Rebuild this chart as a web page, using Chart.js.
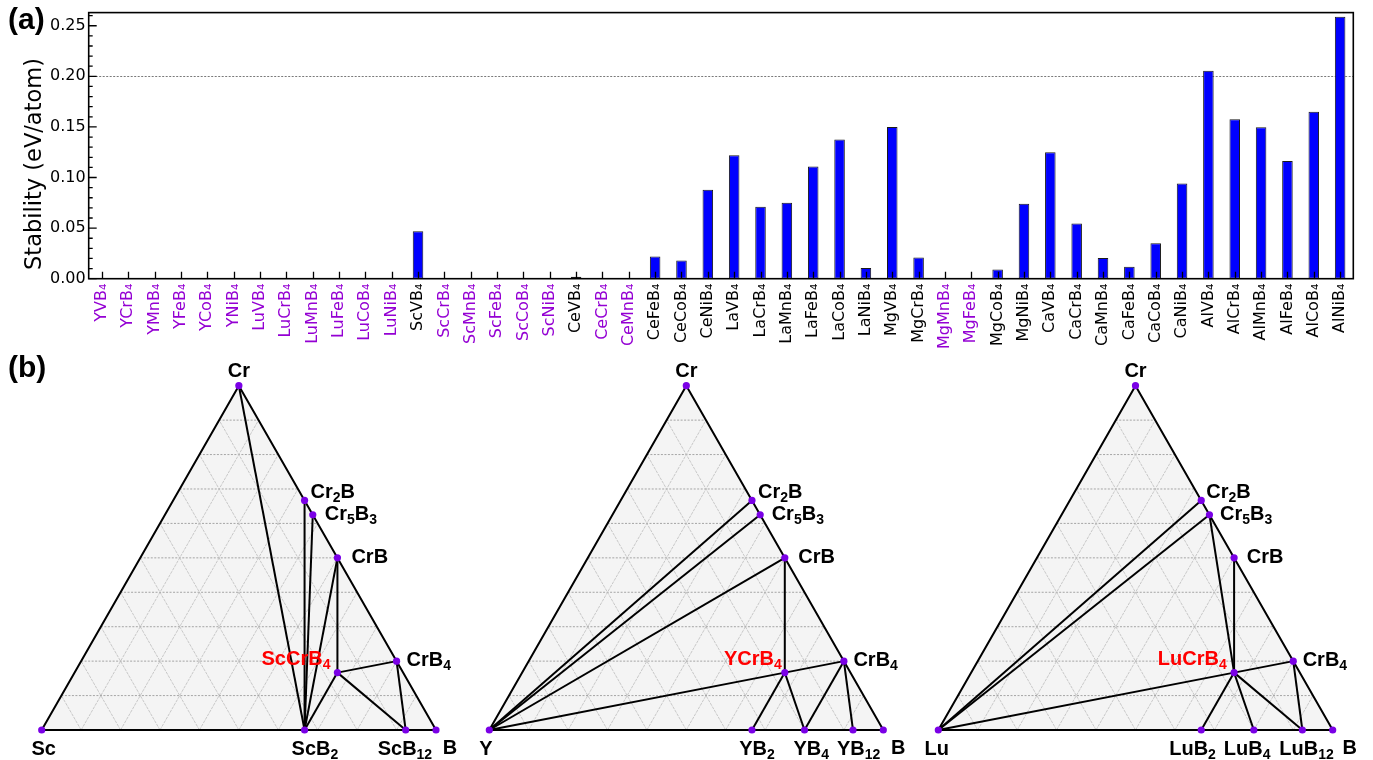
<!DOCTYPE html>
<html>
<head>
<meta charset="utf-8">
<script src="https://cdn.jsdelivr.net/npm/chart.js@4.4.1/dist/chart.umd.min.js"></script>
<style>
  html, body { margin: 0; padding: 0; background: #fff; }
  #fig { position: relative; width: 1373px; height: 760px; overflow: hidden; background: #fff; }
  #fig canvas { position: absolute; }
  .tag { position: absolute; font: bold 30px 'Liberation Sans', Arial, sans-serif; line-height: 30px; color: #000; }
</style>
</head>
<body>
<div id="fig">
  <canvas id="barChart" width="1373" height="350" style="left:0;top:0"></canvas>
  <canvas id="ternSc" width="460" height="405" style="left:0;top:355px"></canvas>
  <canvas id="ternY" width="450" height="405" style="left:460px;top:355px"></canvas>
  <canvas id="ternLu" width="463" height="405" style="left:910px;top:355px"></canvas>
  <div class="tag" style="left:8px;top:4px">(a)</div>
  <div class="tag" style="left:8px;top:352px">(b)</div>
</div>
<script>
// ---------- (a) stability of the RTB4 compounds ----------
const compounds = [
  'YVB4', 'YCrB4', 'YMnB4', 'YFeB4', 'YCoB4', 'YNiB4',
  'LuVB4', 'LuCrB4', 'LuMnB4', 'LuFeB4', 'LuCoB4', 'LuNiB4',
  'ScVB4', 'ScCrB4', 'ScMnB4', 'ScFeB4', 'ScCoB4', 'ScNiB4',
  'CeVB4', 'CeCrB4', 'CeMnB4', 'CeFeB4', 'CeCoB4', 'CeNiB4',
  'LaVB4', 'LaCrB4', 'LaMnB4', 'LaFeB4', 'LaCoB4', 'LaNiB4',
  'MgVB4', 'MgCrB4', 'MgMnB4', 'MgFeB4', 'MgCoB4', 'MgNiB4',
  'CaVB4', 'CaCrB4', 'CaMnB4', 'CaFeB4', 'CaCoB4', 'CaNiB4',
  'AlVB4', 'AlCrB4', 'AlMnB4', 'AlFeB4', 'AlCoB4', 'AlNiB4'
];
// eV/atom
const stability = [
  0, 0, 0, 0, 0, 0,
  0, 0, 0, 0, 0, 0,
  0.047, 0, 0, 0, 0, 0,
  0.002, 0, 0, 0.022, 0.018, 0.088,
  0.122, 0.071, 0.075, 0.111, 0.1375, 0.0105,
  0.150, 0.021, 0, 0, 0.009, 0.074,
  0.125, 0.0545, 0.0205, 0.0118, 0.035, 0.094,
  0.2055, 0.1575, 0.1497, 0.1164, 0.165, 0.259
];
// compounds printed in violet
const unstableCompounds = [
  'YVB4', 'YCrB4', 'YMnB4', 'YFeB4', 'YCoB4', 'YNiB4',
  'LuVB4', 'LuCrB4', 'LuMnB4', 'LuFeB4', 'LuCoB4', 'LuNiB4',
  'ScCrB4', 'ScMnB4', 'ScFeB4', 'ScCoB4', 'ScNiB4',
  'CeCrB4', 'CeMnB4', 'MgMnB4', 'MgFeB4'
];
const yTicks = [0.00, 0.05, 0.10, 0.15, 0.20, 0.25];
const yMinorStep = 0.01;
const yMax = 0.263;
const referenceLevel = 0.20;

const VIOLET = '#9400d3';
const subDigits = { '0':'\u2080','1':'\u2081','2':'\u2082','3':'\u2083','4':'\u2084','5':'\u2085','6':'\u2086','7':'\u2087','8':'\u2088','9':'\u2089' };
const withSubscripts = s => s.replace(/\d/g, d => subDigits[d]);

const barFrame = {
  id: 'barFrame',
  beforeDatasetsDraw(chart) {
    const { ctx, chartArea: a, scales: { y } } = chart;
    const py = Math.round(y.getPixelForValue(referenceLevel)) + 0.5;
    ctx.save();
    ctx.strokeStyle = '#7a7a7a';
    ctx.lineWidth = 1;
    ctx.setLineDash([2, 1.5]);
    ctx.beginPath(); ctx.moveTo(a.left, py); ctx.lineTo(a.right, py); ctx.stroke();
    ctx.restore();
  },
  afterDatasetsDraw(chart) {
    const { ctx, chartArea: a, scales: { x, y } } = chart;
    ctx.save();
    ctx.strokeStyle = '#000';
    ctx.lineWidth = 1.3;
    ctx.beginPath();
    // inward ticks on the category axis
    for (let i = 0; i < compounds.length; i++) {
      const px = Math.round(x.getPixelForTick(i)) + 0.5;
      ctx.moveTo(px, a.bottom); ctx.lineTo(px, a.bottom - 7);
    }
    // inward major / minor ticks on the value axis
    for (const v of yTicks) {
      const py = y.getPixelForValue(v);
      ctx.moveTo(a.left, py); ctx.lineTo(a.left + 8, py);
    }
    for (let k = 1; k * yMinorStep <= yMax; k++) {
      const v = k * yMinorStep;
      if (k % 5 === 0) continue;
      const py = y.getPixelForValue(v);
      ctx.moveTo(a.left, py); ctx.lineTo(a.left + 4, py);
    }
    ctx.stroke();
    ctx.lineWidth = 1.6;
    ctx.strokeRect(a.left, a.top, a.right - a.left, a.bottom - a.top);
    // axis title
    ctx.translate(35, 164);
    ctx.rotate(-Math.PI / 2);
    ctx.fillStyle = '#000';
    ctx.font = "22.5px 'DejaVu Sans'";
    ctx.textAlign = 'center';
    ctx.textBaseline = 'middle';
    ctx.fillText('Stability (eV/atom)', 0, 0);
    ctx.restore();
  }
};

new Chart(document.getElementById('barChart'), {
  type: 'bar',
  data: {
    labels: compounds.map(withSubscripts),
    datasets: [{
      data: stability,
      backgroundColor: '#0000ff',
      borderColor: '#1a1a1a',
      borderWidth: 1,
      borderSkipped: false,
      barPercentage: 0.4,
      categoryPercentage: 1.0
    }]
  },
  options: {
    responsive: false,
    animation: false,
    events: [],
    layout: { padding: { top: 11.7, right: 19.7, left: 0, bottom: 0 } },
    plugins: { legend: { display: false }, tooltip: { enabled: false } },
    scales: {
      x: {
        grid: { display: false, drawTicks: false },
        border: { display: false },
        ticks: {
          autoSkip: false,
          minRotation: 90,
          maxRotation: 90,
          padding: 5,
          font: { family: 'DejaVu Sans', size: 16 },
          color: c => unstableCompounds.includes(compounds[c.index]) ? VIOLET : '#000'
        },
        afterFit: s => { s.height = 71.3; }
      },
      y: {
        min: 0,
        max: yMax,
        grid: { display: false, drawTicks: false },
        border: { display: false },
        afterBuildTicks: s => { s.ticks = yTicks.map(v => ({ value: v })); },
        ticks: {
          padding: 3,
          font: { family: 'DejaVu Sans', size: 16 },
          color: '#000',
          callback: v => Number(v).toFixed(2)
        },
        afterFit: s => { s.width = 88.7; }
      }
    }
  },
  plugins: [barFrame]
});

// ---------- (b) Cr–B–R ternary phase diagrams ----------
// binary Cr borides: [phase, Cr atoms, B atoms]
const crBorides = [['Cr2B', 2, 1], ['Cr5B3', 5, 3], ['CrB', 1, 1], ['CrB4', 1, 4]];
// metal borides: [phase, R atoms, B atoms]
const scBorides = [['ScB2', 1, 2], ['ScB12', 1, 12]];
const yBorides = [['YB2', 1, 2], ['YB4', 1, 4], ['YB12', 1, 12]];
const luBorides = [['LuB2', 1, 2], ['LuB4', 1, 4], ['LuB12', 1, 12]];
// tie lines of the convex hull
const scTies = [['Cr', 'ScB2'], ['Cr2B', 'ScB2'], ['Cr5B3', 'ScB2'], ['CrB', 'ScB2'], ['CrB', 'ScCrB4'],
  ['ScCrB4', 'ScB2'], ['ScCrB4', 'CrB4'], ['ScCrB4', 'ScB12'], ['CrB4', 'ScB12']];
const yTies = [['Y', 'Cr2B'], ['Y', 'Cr5B3'], ['Y', 'CrB'], ['Y', 'YCrB4'], ['YCrB4', 'CrB4'], ['CrB', 'YCrB4'],
  ['YCrB4', 'YB2'], ['YCrB4', 'YB4'], ['YB4', 'CrB4'], ['CrB4', 'YB12']];
const luTies = [['Lu', 'Cr2B'], ['Lu', 'Cr5B3'], ['Lu', 'LuCrB4'], ['LuCrB4', 'CrB4'], ['Cr5B3', 'LuCrB4'],
  ['CrB', 'LuCrB4'], ['LuCrB4', 'LuB2'], ['LuCrB4', 'LuB4'], ['LuCrB4', 'LuB12'], ['CrB4', 'LuB12']];
const gridLevels = [0.1, 0.2, 0.3, 0.4, 0.5, 0.6, 0.7, 0.8, 0.9];

// label placement: [anchor, dx, dy] in pixels from the phase point (dy to cap centre)
const labelPlacement = {
  Sc: { Sc: ['center', 2, 18], Cr: ['center', 0, -16], B: ['center', 14, 17], Cr2B: ['left', 6, -9],
    Cr5B3: ['left', 12, -2], CrB: ['left', 14, -2], CrB4: ['left', 10, -2], ScB2: ['left', -13, 18],
    ScB12: ['left', -28, 18], ScCrB4: ['right', -7, -15] },
  Y: { Y: ['center', -3.5, 18], Cr: ['center', 0, -16], B: ['center', 15, 17], Cr2B: ['left', 6, -9],
    Cr5B3: ['left', 11.5, -2], CrB: ['left', 13.5, -2], CrB4: ['left', 9.5, -2], YB2: ['left', -12.7, 18],
    YB4: ['left', -11, 18], YB12: ['left', -16, 18], YCrB4: ['right', -3, -15] },
  Lu: { Lu: ['center', -1.6, 18], Cr: ['center', 0, -16], B: ['center', 17, 17], Cr2B: ['left', 5, -9],
    Cr5B3: ['left', 10.6, -2], CrB: ['left', 12.6, -2], CrB4: ['left', 9.4, -2], LuB2: ['left', -32, 18],
    LuB4: ['left', -30, 18], LuB12: ['left', -23, 18], LuCrB4: ['right', -7.4, -15] }
};
// canvas placement and triangle box (page pixels)
const panelLayout = {
  Sc: { canvas: 'ternSc', left: 0, width: 460, triLeft: 41.7, triRight: 436.0 },
  Y: { canvas: 'ternY', left: 460, width: 450, triLeft: 489.3, triRight: 883.3 },
  Lu: { canvas: 'ternLu', left: 910, width: 463, triLeft: 938.3, triRight: 1332.7 }
};
const PANEL_TOP = 355, PANEL_H = 405, TRI_TOP = 385.7, TRI_BASE = 730;

const H = Math.sqrt(3) / 2;
function toXY(c) {
  const s = c[0] + c[1] + c[2];
  const cr = c[1] / s, b = c[2] / s;
  return { x: b + cr / 2, y: cr * H };
}

function drawFormula(ctx, name, x, yc, align, color) {
  const parts = name.split(/(\d+)/).filter(Boolean).map(t => ({ t, sub: /^\d+$/.test(t) }));
  const mainFont = "bold 20px 'Liberation Sans', Arial, sans-serif";
  const subFont = "bold 14px 'Liberation Sans', Arial, sans-serif";
  ctx.save();
  ctx.textBaseline = 'alphabetic';
  ctx.textAlign = 'left';
  ctx.fillStyle = color;
  let w = 0;
  for (const p of parts) { ctx.font = p.sub ? subFont : mainFont; p.w = ctx.measureText(p.t).width; w += p.w; }
  let sx = align === 'left' ? x : align === 'right' ? x - w : x - w / 2;
  const base = yc + 7;
  for (const p of parts) {
    ctx.font = p.sub ? subFont : mainFont;
    ctx.fillText(p.t, sx, p.sub ? base + 4 : base);
    sx += p.w;
  }
  ctx.restore();
}

function buildTernary(metal, borides, ties) {
  const ternaryName = metal + 'CrB4';
  const comp = {};
  comp[metal] = [1, 0, 0];
  comp.Cr = [0, 1, 0];
  comp.B = [0, 0, 1];
  for (const [n, cr, b] of crBorides) comp[n] = [0, cr, b];
  for (const [n, m, b] of borides) comp[n] = [m, 0, b];
  comp[ternaryName] = [1, 1, 4];
  const P = n => toXY(comp[n]);

  const datasets = [];
  const line = (pts, opts) => datasets.push(Object.assign({
    data: pts, showLine: true, pointRadius: 0, borderWidth: 2, borderColor: '#000',
    backgroundColor: 'transparent', fill: false, clip: false, tension: 0
  }, opts));

  // triangle face
  line([P(metal), P('Cr'), P('B')], { borderWidth: 0, fill: 'origin', backgroundColor: '#f4f4f4', order: 5 });
  // composition grid: dotted iso-Cr lines, fainter lines along the other two directions
  for (const f of gridLevels) {
    const iso = { borderWidth: 0.9, borderColor: '#9c9c9c', borderDash: [2, 1.5], order: 4 };
    const side = { borderWidth: 0.8, borderColor: '#bcbcbc', borderDash: [3, 1], order: 4 };
    line([toXY([1 - f, f, 0]), toXY([0, f, 1 - f])], iso);
    line([toXY([1 - f, 0, f]), toXY([0, 1 - f, f])], side);
    line([toXY([f, 0, 1 - f]), toXY([f, 1 - f, 0])], side);
  }
  // triangle edges
  line([P(metal), P('Cr'), P('B'), P(metal)], { order: 3, borderJoinStyle: 'miter' });
  // tie lines
  for (const [a, b] of ties) line([P(a), P(b)], { order: 2 });
  // phases
  const names = Object.keys(comp);
  datasets.push({
    data: names.map(P), showLine: false, pointRadius: 3.6, pointBorderWidth: 0,
    pointBackgroundColor: '#7a00e6', backgroundColor: '#7a00e6', clip: false, order: 1
  });

  const place = labelPlacement[metal];
  const L = panelLayout[metal];
  const labelPlugin = {
    id: 'phaseLabels' + metal,
    afterDatasetsDraw(chart) {
      const { ctx, scales: { x, y } } = chart;
      for (const n of names) {
        const [align, dx, dy] = place[n];
        const p = P(n);
        drawFormula(ctx, n, x.getPixelForValue(p.x) + dx, y.getPixelForValue(p.y) + dy, align,
          n === ternaryName ? '#ff0000' : '#000');
      }
    }
  };

  new Chart(document.getElementById(L.canvas), {
    type: 'scatter',
    data: { datasets },
    options: {
      responsive: false,
      animation: false,
      events: [],
      layout: {
        padding: {
          left: L.triLeft - L.left,
          right: L.left + L.width - L.triRight,
          top: TRI_TOP - PANEL_TOP,
          bottom: PANEL_TOP + PANEL_H - TRI_BASE
        }
      },
      plugins: { legend: { display: false }, tooltip: { enabled: false } },
      scales: {
        x: { type: 'linear', min: 0, max: 1, display: false },
        y: { type: 'linear', min: 0, max: H, display: false }
      }
    },
    plugins: [labelPlugin]
  });
}

buildTernary('Sc', scBorides, scTies);
buildTernary('Y', yBorides, yTies);
buildTernary('Lu', luBorides, luTies);
</script>
</body>
</html>
